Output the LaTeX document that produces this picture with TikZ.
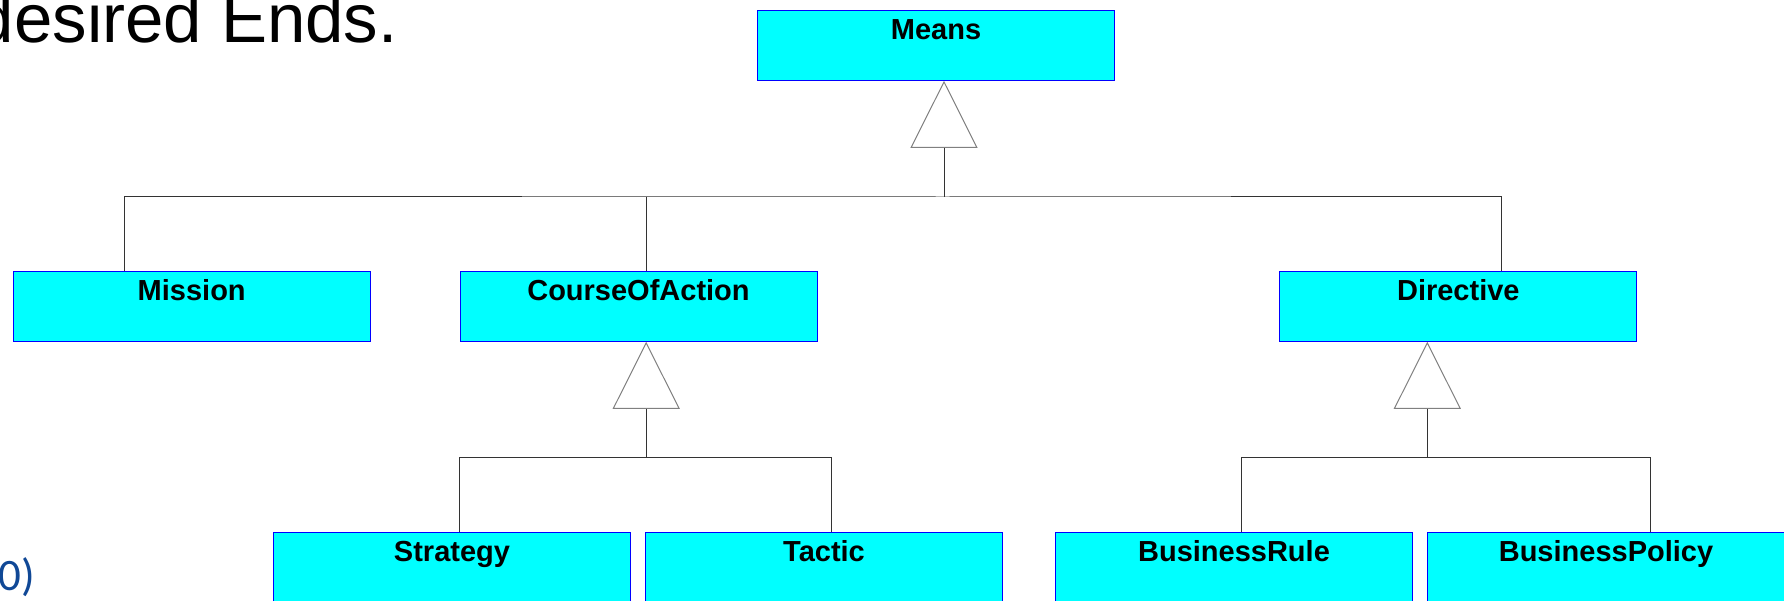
\documentclass[tikz,border=0pt]{standalone}
\usepackage{fontspec}
\setmainfont{Liberation Sans}
\newfontfamily\slidefont{Carlito}
\usetikzlibrary{arrows.meta,positioning}

\definecolor{clsfill}{RGB}{0,255,255}
\definecolor{clsline}{RGB}{0,0,255}
\definecolor{slideblue}{RGB}{16,72,150}

\tikzset{
  cls/.style={draw=clsline, fill=clsfill, line width=1pt, inner sep=0pt,
    minimum width=357pt, text height=29pt, text depth=41pt,
    font=\fontsize{29}{34}\selectfont\bfseries},
  wire/.style={draw=black!80, line width=1pt},
  gen/.style={wire, -{Triangle[length=67pt, width=67pt, color=black!50, fill=white]}}
}

\begin{document}
\begin{tikzpicture}[x=1pt, y=-1pt, node distance=261pt, on grid]
  \useasboundingbox (0,0) rectangle (1784,601);

  % slide text round the diagram
  \node[anchor=base east, inner sep=0pt, font=\fontsize{69}{80}\selectfont] (ends) at (398,42.7) {desired Ends.};
  \node[anchor=base east, inner sep=0pt, text=slideblue, font=\slidefont\fontsize{45}{52}\selectfont] (ref) at (35,590) {0)};

  \node[cls] (means) at (936,45.3) {Means};
  \node[cls] (mission) [below left=261pt and 744.3pt of means] {Mission};
  \node[cls] (coa) [right=446.8pt of mission] {CourseOfAction};
  \node[cls] (directive) [right=819.8pt of coa] {Directive};
  \node[cls] (strategy) [below left=261pt and 186.5pt of coa] {Strategy};
  \node[cls] (tactic) [right=372pt of strategy] {Tactic};
  \node[cls] (rule) [right=410pt of tactic] {BusinessRule};
  \node[cls] (policy) [right=372pt of rule] {BusinessPolicy};

  \coordinate (j1) at (944,197);
  \coordinate (j2) at (646.2,457.3);
  \coordinate (j3) at (1427.3,457.3);

  \draw[gen] (j1) -- (j1 |- means.south);
  \draw[wire] ([xshift=112pt]mission.north west) |- (j1) -| ([xshift=221.7pt]directive.north west);
  \draw[wire] (j1 -| j2) -- (j2 |- coa.north);

  \draw[gen] (j2) -- (j2 |- coa.south);
  \draw[wire] ([xshift=186.3pt]strategy.north west) |- (j2) -| ([xshift=186.4pt]tactic.north west);

  \draw[gen] (j3) -- (j3 |- directive.south);
  \draw[wire] ([xshift=186pt]rule.north west) |- (j3) -| ([xshift=223.4pt]policy.north west);
\end{tikzpicture}
\end{document}
